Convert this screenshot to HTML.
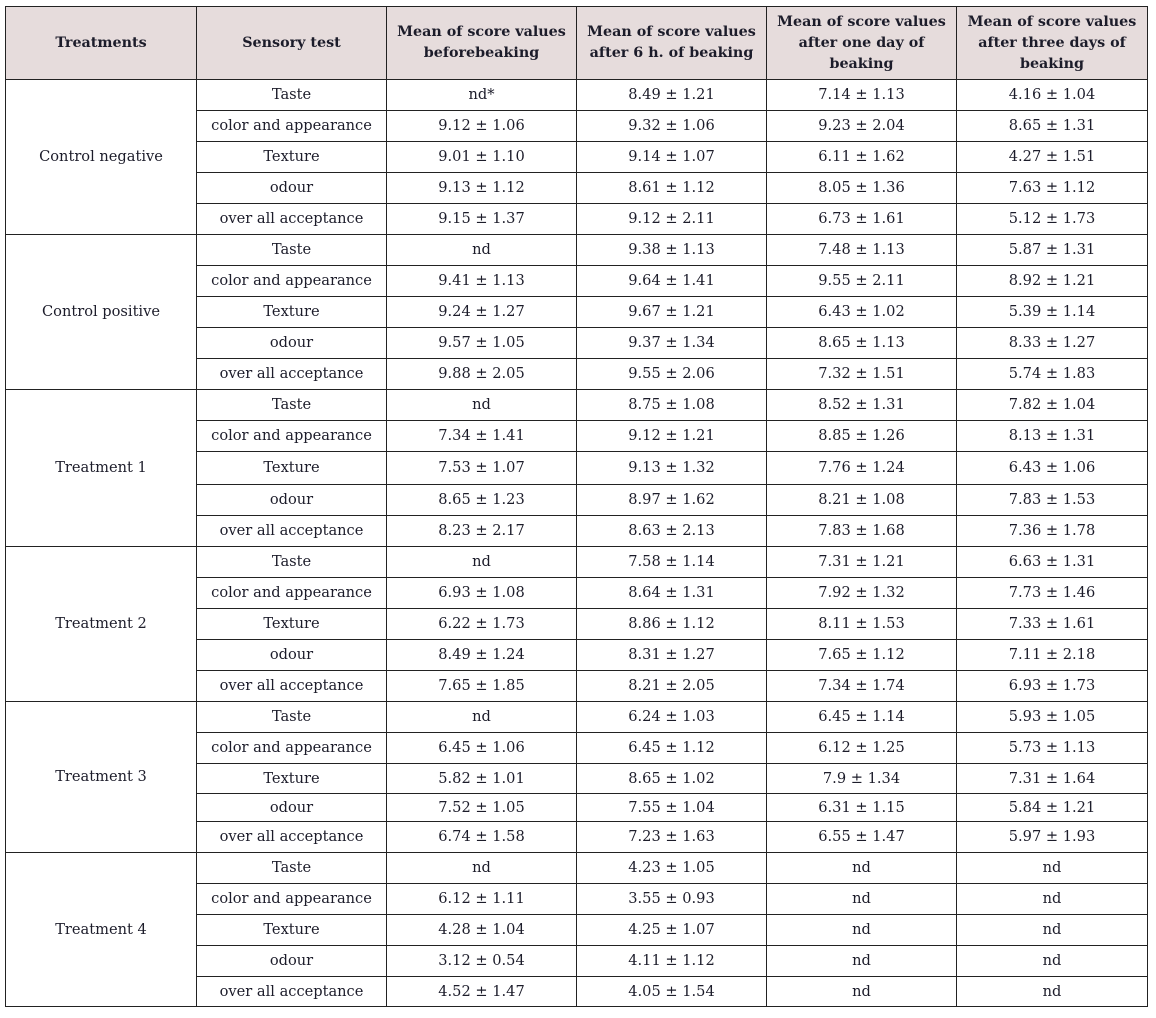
<!DOCTYPE html>
<html><head><meta charset="utf-8"><style>
body{margin:0;background:#fff;width:1156px;height:1018px;overflow:hidden}
table{position:absolute;left:5px;top:6px;border-collapse:collapse;table-layout:fixed;width:1143px;font-family:"DejaVu Serif","Liberation Serif",serif;font-size:14.6px;color:#1c1c2a}
td,th{border:1px solid #222;text-align:center;padding:0;line-height:20px}
th{background:#e6dcdc;font-weight:bold;height:72px;font-size:14.3px;padding:0 5px;line-height:21px}
</style></head><body>
<table>
<colgroup><col style="width:191px"><col style="width:190px"><col style="width:190px"><col style="width:190px"><col style="width:190px"><col style="width:191px"></colgroup>
<tr><th>Treatments</th><th>Sensory test</th><th>Mean of score values beforebeaking</th><th>Mean of score values after 6 h. of beaking</th><th>Mean of score values after one day of beaking</th><th>Mean of score values after three days of beaking</th></tr>
<tr style="height:31px"><td rowspan="5">Control negative</td><td>Taste</td><td>nd*</td><td>8.49 ± 1.21</td><td>7.14 ± 1.13</td><td>4.16 ± 1.04</td></tr>
<tr style="height:31px"><td>color and appearance</td><td>9.12 ± 1.06</td><td>9.32 ± 1.06</td><td>9.23 ± 2.04</td><td>8.65 ± 1.31</td></tr>
<tr style="height:31px"><td>Texture</td><td>9.01 ± 1.10</td><td>9.14 ± 1.07</td><td>6.11 ± 1.62</td><td>4.27 ± 1.51</td></tr>
<tr style="height:31px"><td>odour</td><td>9.13 ± 1.12</td><td>8.61 ± 1.12</td><td>8.05 ± 1.36</td><td>7.63 ± 1.12</td></tr>
<tr style="height:31px"><td>over all acceptance</td><td>9.15 ± 1.37</td><td>9.12 ± 2.11</td><td>6.73 ± 1.61</td><td>5.12 ± 1.73</td></tr>
<tr style="height:31px"><td rowspan="5">Control positive</td><td>Taste</td><td>nd</td><td>9.38 ± 1.13</td><td>7.48 ± 1.13</td><td>5.87 ± 1.31</td></tr>
<tr style="height:31px"><td>color and appearance</td><td>9.41 ± 1.13</td><td>9.64 ± 1.41</td><td>9.55 ± 2.11</td><td>8.92 ± 1.21</td></tr>
<tr style="height:31px"><td>Texture</td><td>9.24 ± 1.27</td><td>9.67 ± 1.21</td><td>6.43 ± 1.02</td><td>5.39 ± 1.14</td></tr>
<tr style="height:31px"><td>odour</td><td>9.57 ± 1.05</td><td>9.37 ± 1.34</td><td>8.65 ± 1.13</td><td>8.33 ± 1.27</td></tr>
<tr style="height:31px"><td>over all acceptance</td><td>9.88 ± 2.05</td><td>9.55 ± 2.06</td><td>7.32 ± 1.51</td><td>5.74 ± 1.83</td></tr>
<tr style="height:31px"><td rowspan="5">Treatment 1</td><td>Taste</td><td>nd</td><td>8.75 ± 1.08</td><td>8.52 ± 1.31</td><td>7.82 ± 1.04</td></tr>
<tr style="height:31px"><td>color and appearance</td><td>7.34 ± 1.41</td><td>9.12 ± 1.21</td><td>8.85 ± 1.26</td><td>8.13 ± 1.31</td></tr>
<tr style="height:33px"><td>Texture</td><td>7.53 ± 1.07</td><td>9.13 ± 1.32</td><td>7.76 ± 1.24</td><td>6.43 ± 1.06</td></tr>
<tr style="height:31px"><td>odour</td><td>8.65 ± 1.23</td><td>8.97 ± 1.62</td><td>8.21 ± 1.08</td><td>7.83 ± 1.53</td></tr>
<tr style="height:31px"><td>over all acceptance</td><td>8.23 ± 2.17</td><td>8.63 ± 2.13</td><td>7.83 ± 1.68</td><td>7.36 ± 1.78</td></tr>
<tr style="height:31px"><td rowspan="5">Treatment 2</td><td>Taste</td><td>nd</td><td>7.58 ± 1.14</td><td>7.31 ± 1.21</td><td>6.63 ± 1.31</td></tr>
<tr style="height:31px"><td>color and appearance</td><td>6.93 ± 1.08</td><td>8.64 ± 1.31</td><td>7.92 ± 1.32</td><td>7.73 ± 1.46</td></tr>
<tr style="height:31px"><td>Texture</td><td>6.22 ± 1.73</td><td>8.86 ± 1.12</td><td>8.11 ± 1.53</td><td>7.33 ± 1.61</td></tr>
<tr style="height:31px"><td>odour</td><td>8.49 ± 1.24</td><td>8.31 ± 1.27</td><td>7.65 ± 1.12</td><td>7.11 ± 2.18</td></tr>
<tr style="height:31px"><td>over all acceptance</td><td>7.65 ± 1.85</td><td>8.21 ± 2.05</td><td>7.34 ± 1.74</td><td>6.93 ± 1.73</td></tr>
<tr style="height:31px"><td rowspan="5">Treatment 3</td><td>Taste</td><td>nd</td><td>6.24 ± 1.03</td><td>6.45 ± 1.14</td><td>5.93 ± 1.05</td></tr>
<tr style="height:31px"><td>color and appearance</td><td>6.45 ± 1.06</td><td>6.45 ± 1.12</td><td>6.12 ± 1.25</td><td>5.73 ± 1.13</td></tr>
<tr style="height:30px"><td>Texture</td><td>5.82 ± 1.01</td><td>8.65 ± 1.02</td><td>7.9 ± 1.34</td><td>7.31 ± 1.64</td></tr>
<tr style="height:28px"><td>odour</td><td>7.52 ± 1.05</td><td>7.55 ± 1.04</td><td>6.31 ± 1.15</td><td>5.84 ± 1.21</td></tr>
<tr style="height:31px"><td>over all acceptance</td><td>6.74 ± 1.58</td><td>7.23 ± 1.63</td><td>6.55 ± 1.47</td><td>5.97 ± 1.93</td></tr>
<tr style="height:31px"><td rowspan="5">Treatment 4</td><td>Taste</td><td>nd</td><td>4.23 ± 1.05</td><td>nd</td><td>nd</td></tr>
<tr style="height:31px"><td>color and appearance</td><td>6.12 ± 1.11</td><td>3.55 ± 0.93</td><td>nd</td><td>nd</td></tr>
<tr style="height:31px"><td>Texture</td><td>4.28 ± 1.04</td><td>4.25 ± 1.07</td><td>nd</td><td>nd</td></tr>
<tr style="height:31px"><td>odour</td><td>3.12 ± 0.54</td><td>4.11 ± 1.12</td><td>nd</td><td>nd</td></tr>
<tr style="height:30px"><td>over all acceptance</td><td>4.52 ± 1.47</td><td>4.05 ± 1.54</td><td>nd</td><td>nd</td></tr>
</table>
</body></html>
